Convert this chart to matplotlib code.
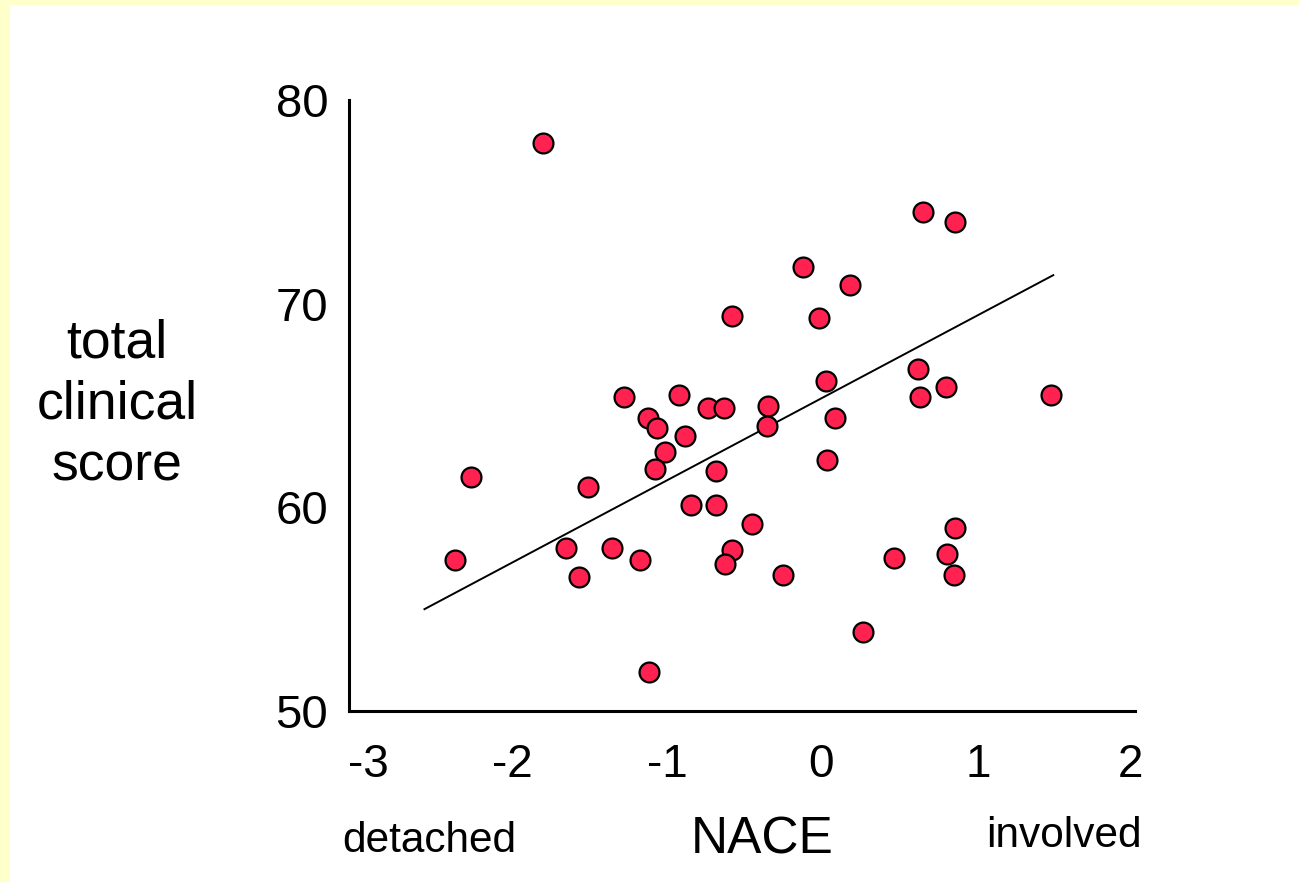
import matplotlib
matplotlib.use("Agg")
import matplotlib.pyplot as plt
from matplotlib.patches import Rectangle
from matplotlib.transforms import ScaledTranslation

# NACE score vs total clinical score
nace = [-1.766, 0.651, 0.855, -0.112, 0.187, -0.564, -0.010, 0.620, 0.034, 0.798,
        0.632, 1.466, -1.250, -0.901, -0.716, -0.614, -0.335, 0.092, -1.098, -1.041,
        -0.341, -0.863, -0.990, 0.041, -1.053, -0.665, -2.224, -1.480, -0.824, -0.665,
        -0.436, 0.855, -2.326, -1.620, -1.327, -1.149, -0.564, 0.466, 0.804, -1.537,
        -0.608, -0.239, 0.849, 0.270, -1.092]
clinical = [77.9, 74.5, 74.0, 71.8, 70.9, 69.4, 69.3, 66.8, 66.2, 65.9,
            65.4, 65.5, 65.4, 65.5, 64.9, 64.9, 65.0, 64.4, 64.4, 63.9,
            64.0, 63.5, 62.7, 62.3, 61.9, 61.8, 61.5, 61.0, 60.1, 60.1,
            59.2, 59.0, 57.4, 58.0, 58.0, 57.4, 57.9, 57.5, 57.7, 56.6,
            57.2, 56.7, 56.7, 53.9, 51.9]

# regression line end points
fit_x = [-2.52, 1.48]
fit_y = [55.0, 71.4]

x_ticks = [-3, -2, -1, 0, 1, 2]
y_ticks = [50, 60, 70, 80]

W, H = 1299, 882
FONT = ["Liberation Sans", "DejaVu Sans"]
plt.rcParams["font.family"] = FONT

fig = plt.figure(figsize=(W / 100, H / 100), dpi=100)
fig.patch.set_facecolor("white")

# pale yellow slide border on the top and left edges
fig.patches.append(Rectangle((0, 1 - 5 / H), 1, 5 / H, transform=fig.transFigure,
                             facecolor="#FFFFCC", edgecolor="none", zorder=0))
fig.patches.append(Rectangle((0, 0), 10 / W, 1, transform=fig.transFigure,
                             facecolor="#FFFFCC", edgecolor="none", zorder=0))

ax = fig.add_axes([349 / W, 1 - 711 / H, 786 / W, 611 / H])
ax.set_facecolor("none")

ax.plot(fit_x, fit_y, color="black", linewidth=1.4, zorder=2)
ax.scatter(nace, clinical, s=205, color="#FF2150", edgecolors="black",
           linewidths=1.6, zorder=3, clip_on=False)

ax.set_xlim(-3, 2)
ax.set_ylim(50, 80)
for s in ("top", "right"):
    ax.spines[s].set_visible(False)
for s in ("left", "bottom"):
    ax.spines[s].set_linewidth(2.2)
    ax.spines[s].set_color("black")

ax.set_xticks(x_ticks)
ax.set_yticks(y_ticks)
ax.set_xticklabels([str(v) for v in x_ticks])
ax.set_yticklabels([str(v) for v in y_ticks])
ax.tick_params(axis="x", length=0, pad=23, labelsize=33)
ax.tick_params(axis="y", length=0, pad=15, labelsize=34)

# the slide's x tick labels sit slightly off their ticks
x_shift_px = [19, 6, 4, 0, 0, -5]
for lab, dx in zip(ax.get_xticklabels(), x_shift_px):
    lab.set_transform(lab.get_transform() + ScaledTranslation(dx / 100, 0, fig.dpi_scale_trans))

fig.text(117 / W, 1 - 405 / H, "total\nclinical\nscore", ha="center", va="center",
         fontsize=38.5, linespacing=1.3)
fig.text(762 / W, 1 - 853 / H, "NACE", ha="center", va="baseline", fontsize=37)
fig.text(429 / W, 1 - 852 / H, "detached", ha="center", va="baseline", fontsize=30.5)
fig.text(1064 / W, 1 - 847 / H, "involved", ha="center", va="baseline", fontsize=30.5)

fig.savefig("out.png", dpi=100, facecolor="white")
